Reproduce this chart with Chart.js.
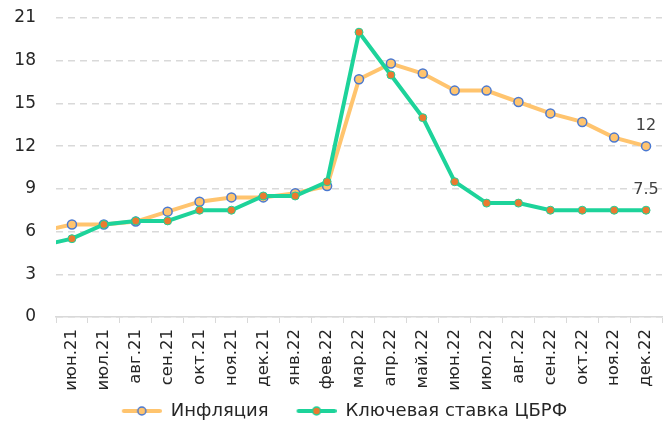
<!DOCTYPE html>
<html lang="ru">
<head>
    <meta charset="UTF-8">
    <title>Инфляция и ключевая ставка</title>
    <script src="https://cdn.jsdelivr.net/npm/chart.js"></script>
    <style>
        html, body { margin: 0; padding: 0; background: #fff; }
        #wrap { width: 668px; height: 423px; }
    </style>
</head>
<body>
<div id="wrap"><canvas id="rateChart" width="668" height="423"></canvas></div>
<script>
    // месяц до начала графика (линии уходят за левый край)
    const months = ['май.21', 'июн.21', 'июл.21', 'авг.21', 'сен.21', 'окт.21', 'ноя.21', 'дек.21',
        'янв.22', 'фев.22', 'мар.22', 'апр.22', 'май.22', 'июн.22', 'июл.22', 'авг.22',
        'сен.22', 'окт.22', 'ноя.22', 'дек.22'];
    const inflation = [6.0, 6.5, 6.5, 6.7, 7.4, 8.1, 8.4, 8.4, 8.7, 9.2, 16.7, 17.8, 17.1, 15.9, 15.9, 15.1, 14.3, 13.7, 12.6, 12.0];
    const keyRate = [5.0, 5.5, 6.5, 6.75, 6.75, 7.5, 7.5, 8.5, 8.5, 9.5, 20, 17, 14, 9.5, 8, 8, 7.5, 7.5, 7.5, 7.5];
    const yTicks = [0, 3, 6, 9, 12, 15, 18, 21];

    const FONT = 'DejaVu Sans';
    const TEXT = '#262626';

    // значок легенды: линия с кружком посередине (слева прозрачный отступ)
    function legendIcon(lineColor, fill, border) {
        const c = document.createElement('canvas');
        c.width = 65; c.height = 12;
        const g = c.getContext('2d');
        g.strokeStyle = lineColor;
        g.lineWidth = 4;
        g.lineCap = 'round';
        g.beginPath(); g.moveTo(27, 6); g.lineTo(63, 6); g.stroke();
        g.beginPath(); g.arc(45, 6, 4, 0, Math.PI * 2);
        g.fillStyle = fill; g.fill();
        g.lineWidth = 1.5; g.strokeStyle = border; g.stroke();
        return c;
    }

    // подписи последних значений
    const lastLabels = {
        id: 'lastLabels',
        afterDatasetsDraw(chart) {
            const ctx = chart.ctx;
            ctx.save();
            ctx.font = '16px "' + FONT + '"';
            ctx.fillStyle = '#404040';
            ctx.textAlign = 'center';
            ctx.textBaseline = 'middle';
            chart.data.datasets.forEach((ds, i) => {
                const meta = chart.getDatasetMeta(i);
                const pt = meta.data[meta.data.length - 1];
                ctx.fillText(String(ds.data[ds.data.length - 1]), pt.x, pt.y - 20);
            });
            ctx.restore();
        }
    };

    new Chart(document.getElementById('rateChart'), {
        type: 'line',
        data: {
            labels: months,
            datasets: [{
                label: 'Инфляция',
                data: inflation,
                borderColor: '#FFC46E',
                borderWidth: 4,
                pointRadius: 4.5,
                pointBorderWidth: 1.5,
                pointBackgroundColor: '#FFC46E',
                pointBorderColor: '#4A78D0',
                tension: 0,
                order: 1
            }, {
                label: 'Ключевая ставка ЦБРФ',
                data: keyRate,
                borderColor: '#1DD39A',
                borderWidth: 4,
                pointRadius: 4,
                pointBorderWidth: 1,
                pointBackgroundColor: '#EA7A30',
                pointBorderColor: '#1DD39A',
                tension: 0,
                order: 0
            }]
        },
        options: {
            responsive: false,
            animation: false,
            layout: { padding: { top: 18, right: 4, left: 0, bottom: -7 } },
            plugins: {
                tooltip: { enabled: false },
                legend: {
                    position: 'bottom',
                    labels: {
                        usePointStyle: true,
                        pointStyleWidth: 65,
                        boxHeight: 12,
                        padding: 3,
                        color: TEXT,
                        font: { family: FONT, size: 18 },
                        generateLabels(chart) {
                            return [
                                { text: 'Инфляция', pointStyle: legendIcon('#FFC46E', '#FFC46E', '#4A78D0'), datasetIndex: 0, fontColor: TEXT, lineWidth: 0 },
                                { text: 'Ключевая ставка ЦБРФ', pointStyle: legendIcon('#1DD39A', '#EA7A30', '#1DD39A'), datasetIndex: 1, fontColor: TEXT, lineWidth: 0 }
                            ];
                        }
                    }
                }
            },
            scales: {
                x: {
                    min: 'июн.21',
                    offset: true,
                    afterFit(scale) {
                        scale.height = 82;
                        scale.paddingLeft = 0;
                        scale.paddingRight = 0;
                    },
                    grid: {
                        offset: true,
                        drawOnChartArea: false,
                        drawTicks: true,
                        tickLength: 6,
                        color: '#D9D9D9',
                        lineWidth: 1
                    },
                    border: { color: '#D9D9D9', width: 1.5 },
                    ticks: {
                        minRotation: 90,
                        maxRotation: 90,
                        autoSkip: false,
                        padding: 6,
                        color: TEXT,
                        font: { family: FONT, size: 16.5 }
                    }
                },
                y: {
                    min: 0,
                    max: 21,
                    afterFit(scale) {
                        scale.width = 56;
                        scale.paddingTop = 0;
                        scale.paddingBottom = 0;
                    },
                    afterBuildTicks(scale) { scale.ticks = yTicks.map(v => ({ value: v })); },
                    grid: {
                        color: '#D9D9D9',
                        lineWidth: 1.5,
                        drawTicks: false
                    },
                    border: { display: false, dash: [7, 5] },
                    ticks: {
                        padding: 20,
                        color: TEXT,
                        font: { family: FONT, size: 17 }
                    }
                }
            }
        },
        plugins: [lastLabels]
    });
</script>
</body>
</html>
